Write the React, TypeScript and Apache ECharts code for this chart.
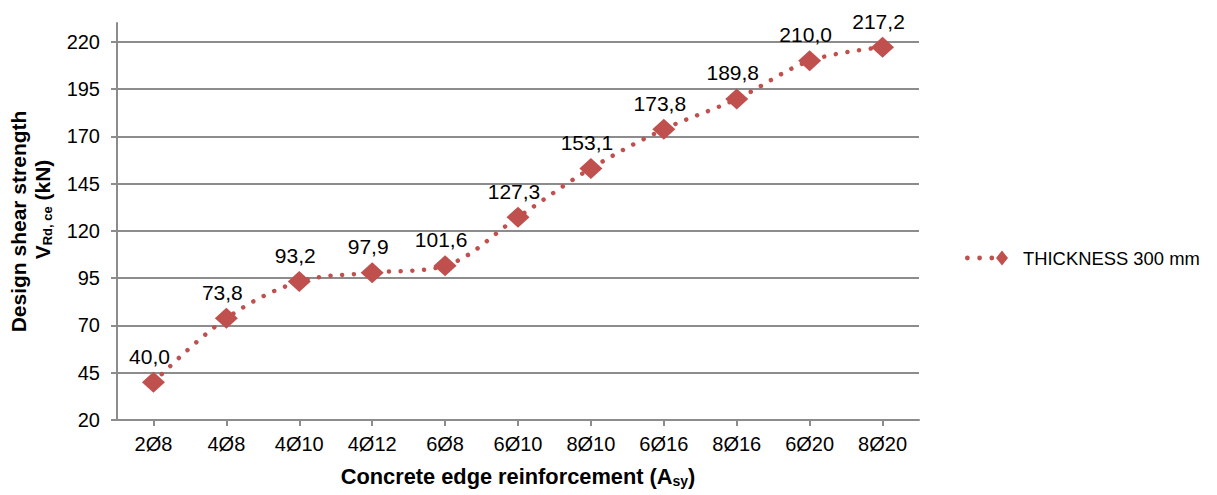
import React, { useEffect, useRef } from "react";
import * as echarts from "echarts";

const categories = ["2Ø8", "4Ø8", "4Ø10", "4Ø12", "6Ø8", "6Ø10", "8Ø10", "6Ø16", "8Ø16", "6Ø20", "8Ø20"];
const strength = [40.0, 73.8, 93.2, 97.9, 101.6, 127.3, 153.1, 173.8, 189.8, 210.0, 217.2];
const seriesName = "THICKNESS 300 mm";
const yMin = 20;
const yMax = 230;
const yStep = 25;

const RED = "#C0504D";
const GRID = "#8C8C8C";
const FONT = "'Liberation Sans', Arial, sans-serif";

// legend glyph: three round dots followed by a diamond marker
const dot = (cx: number) => `M${cx - 2.4},8a2.4,2.4 0 1,0 4.8,0a2.4,2.4 0 1,0 -4.8,0Z`;
const legendIcon =
  "path://" + dot(2.4) + dot(14.6) + dot(26.8) + "M31,8L37,0.5L43,8L37,15.5Z";

export default function App() {
  const ref = useRef<HTMLDivElement>(null);

  useEffect(() => {
    if (!ref.current) return;
    const chart = echarts.init(ref.current, null, { renderer: "svg" });
    chart.setOption({
      animation: false,
      backgroundColor: "#ffffff",
      textStyle: { fontFamily: FONT },
      grid: { left: 117, right: 298, top: 23, bottom: 75, containLabel: false, outerBoundsMode: "none" },
      legend: {
        left: 960,
        top: 244,
        orient: "vertical",
        icon: legendIcon,
        itemWidth: 43,
        itemHeight: 16,
        textStyle: { fontSize: 18.4, color: "#000", fontFamily: FONT, padding: [0, 0, 0, 10] },
        data: [seriesName],
      },
      xAxis: {
        type: "category",
        data: categories,
        boundaryGap: true,
        name: "Concrete edge reinforcement (A{sub|sy})",
        nameLocation: "middle",
        nameGap: 44,
        nameTextStyle: {
          fontSize: 21.8,
          fontWeight: "bold",
          color: "#000",
          fontFamily: FONT,
          rich: {
            sub: { fontSize: 14, fontWeight: "bold", verticalAlign: "bottom", padding: [10, 0, 0, 0], fontFamily: FONT },
          },
        },
        axisLine: { lineStyle: { color: GRID, width: 2 } },
        axisTick: { show: true, alignWithLabel: true, length: 6, lineStyle: { color: GRID, width: 2 } },
        axisLabel: { fontSize: 20, color: "#000", margin: 14, fontFamily: FONT },
        splitLine: { show: false },
      },
      yAxis: {
        type: "value",
        min: yMin,
        max: yMax,
        interval: yStep,
        name: "Design shear strength\n{v0|V}{sub|Rd, ce}{v| (kN)}",
        nameLocation: "middle",
        nameRotate: 90,
        nameGap: 63,
        nameTextStyle: {
          fontSize: 21,
          fontWeight: "bold",
          color: "#000",
          fontFamily: FONT,
          lineHeight: 24,
          rich: {
            v0: { fontSize: 21, fontWeight: "bold", fontFamily: FONT, lineHeight: 24, padding: [0, 0, 0, 24] },
            v: { fontSize: 21, fontWeight: "bold", fontFamily: FONT, lineHeight: 24 },
            sub: { fontSize: 13, fontWeight: "bold", verticalAlign: "bottom", fontFamily: FONT, lineHeight: 24, padding: [8, 0, 0, 0] },
          },
        },
        axisLine: { show: true, lineStyle: { color: GRID, width: 2 } },
        axisTick: { show: true, length: 6, lineStyle: { color: GRID, width: 2 } },
        axisLabel: { fontSize: 20, color: "#000", margin: 17, showMaxLabel: false, fontFamily: FONT },
        splitLine: { show: true, showMaxLine: false, lineStyle: { color: GRID, width: 2 } },
      },
      series: [
        {
          name: seriesName,
          type: "line",
          data: strength,
          smooth: 0.35,
          symbol: "diamond",
          symbolSize: [23, 21],
          itemStyle: { color: RED },
          lineStyle: { color: RED, width: 4.5, type: [0.01, 11.7], cap: "round" },
          label: {
            show: true,
            position: "top",
            distance: 5,
            offset: [-4, 0],
            fontSize: 21,
            color: "#000",
            fontFamily: FONT,
            formatter: (p: any) => Number(p.value).toFixed(1).replace(".", ","),
          },
        },
      ],
    });
    return () => chart.dispose();
  }, []);

  return <div ref={ref} style={{ width: 1217, height: 495, position: "absolute", left: 0, top: 0 }} />;
}
